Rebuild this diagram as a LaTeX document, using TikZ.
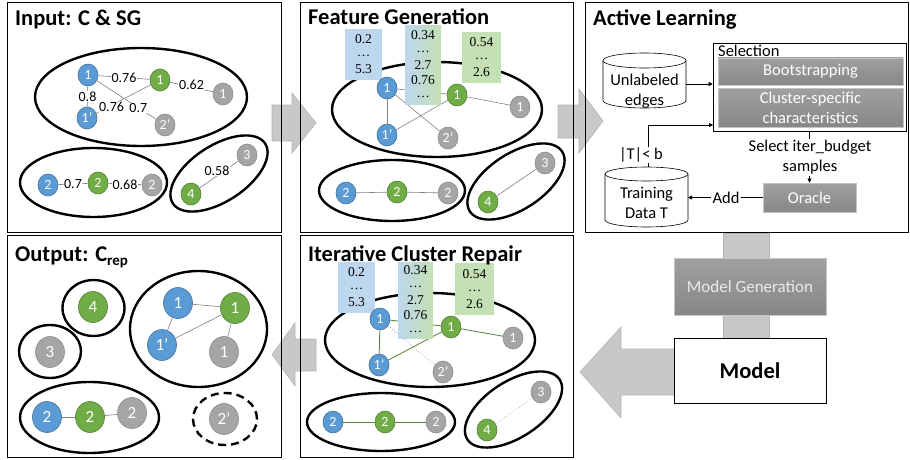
\documentclass[tikz,border=0pt]{standalone}
\usepackage{fontspec}
\setmainfont{Carlito}
\newfontfamily\boxfont{Liberation Serif}
\usetikzlibrary{shapes.geometric,arrows.meta}
\pgfdeclarelayer{bg}
\pgfdeclarelayer{mid}
\pgfsetlayers{bg,mid,main}
\definecolor{nblue}{HTML}{5B9BD5}
\definecolor{nblueD}{HTML}{41719C}
\definecolor{ngreen}{HTML}{70AD47}
\definecolor{ngreenD}{HTML}{507E32}
\definecolor{ngray}{HTML}{A5A5A5}
\definecolor{ngrayD}{HTML}{8A8A8A}
\definecolor{fblue}{HTML}{BDD7EE}
\definecolor{fgreen}{HTML}{C5E0B4}
\definecolor{arrowfill}{HTML}{C8C8C8}
\definecolor{arrowdraw}{HTML}{B4B4B4}
\definecolor{edgegray}{HTML}{808080}
\definecolor{repgreen}{HTML}{548235}
\definecolor{procTop}{HTML}{A0A0A0}
\definecolor{procBot}{HTML}{878787}
\definecolor{procBorder}{HTML}{C4C4C4}
\tikzset{
  panel/.style={draw=black, line width=0.9pt, inner sep=0pt},
  ptitle/.style={anchor=base west, inner sep=0pt, font=\fontsize{22.5}{26}\selectfont\bfseries},
  cluster/.style={draw=black, line width=2.4pt},
  nd/.style={ellipse, minimum width=20pt, minimum height=22pt, inner sep=0pt, text=white, line width=0.6pt, font=\fontsize{14}{14}\selectfont},
  bn/.style={nd, fill=nblue, draw=nblueD},
  gn/.style={nd, fill=ngreen, draw=ngreenD},
  yn/.style={nd, fill=ngray, draw=ngrayD},
  bignd/.style={minimum width=29pt, minimum height=31pt, font=\fontsize{17}{17}\selectfont},
  lk/.style={draw=edgegray, line width=0.6pt},
  rk/.style={draw=repgreen, line width=0.8pt},
  dk/.style={draw=edgegray, line width=0.6pt, dotted},
  lbl/.style={fill=white, inner sep=0.6pt, font=\fontsize{14}{14}\selectfont},
  fbox/.style={inner sep=0pt, align=center, font=\boxfont\fontsize{13.5}{15}\selectfont},
  bigarrow/.style={fill=arrowfill, draw=arrowdraw, line width=0.6pt},
  proc/.style={top color=procTop, bottom color=procBot, draw=procBorder, line width=0.8pt, text=white, inner sep=0pt, align=center, font=\fontsize{16.5}{20}\selectfont},
  altext/.style={font=\fontsize{16.5}{20}\selectfont, inner sep=0pt, align=center},
  cyl/.style={draw=black, line width=0.6pt, fill=white},
  smallarr/.style={-{Triangle[length=4pt,width=4pt]}, line width=0.6pt},
}
\newcommand{\dts}{\raisebox{2pt}{…}}
\begin{document}
\begin{tikzpicture}[x=1pt,y=-1pt]
\useasboundingbox (0,0) rectangle (910,460);

% ---------- background: block arrows ----------
\begin{pgfonlayer}{bg}
\draw[bigarrow] (272,105) -- (292,105) -- (292,93) -- (316,123) -- (292,153) -- (292,141) -- (272,141) -- cycle;
\draw[bigarrow] (558,105) -- (579,105) -- (579,89) -- (603,121) -- (579,153) -- (579,138) -- (558,138) -- cycle;
\draw[bigarrow] (272,354.5) -- (295,323) -- (295,339) -- (316,339) -- (316,371) -- (295,371) -- (295,386) -- cycle;
\draw[bigarrow] (580,372) -- (621,327) -- (621,349) -- (676,349) -- (676,395) -- (621,395) -- (621,418) -- cycle;
\draw[bigarrow] (723,233) rectangle (769,338);
\end{pgfonlayer}

% ---------- panels ----------
\node[panel, minimum width=274pt, minimum height=230pt] (p1) at (144,117) {};
\node[panel, minimum width=273pt, minimum height=230pt] (p2) at (436.5,117) {};
\node[panel, minimum width=323pt, minimum height=230pt] (p3) at (746.5,117) {};
\node[panel, minimum width=274pt, minimum height=222pt] (p4) at (144,346) {};
\node[panel, minimum width=273pt, minimum height=222pt] (p5) at (436.5,346) {};

\node[ptitle] (t1) at (15,26) {Input: C \& SG};
\node[ptitle] (t2) at (308,25) {Feature Generation};
\node[ptitle] (t3) at (593,26) {Active Learning};
\node[ptitle] (t4) at (15,261) {Output: C\raisebox{-4pt}{\fontsize{15}{15}\selectfont rep}};
\node[ptitle] (t5) at (308,261) {Iterative Cluster Repair};

% ---------- panel 1 ----------
\node[bn] (a1) at (88,75) {1};
\node[gn] (a2) at (160,80) {1};
\node[yn] (a3) at (223,94) {1};
\node[bn] (a4) at (87,118) {1'};
\node[yn] (a5) at (165,125) {2'};
\node[bn] (a6) at (48,185) {2};
\node[gn] (a7) at (98,183) {2};
\node[yn] (a8) at (152,185) {2};
\node[yn] (a9) at (247,155) {3};
\node[gn] (a10) at (191,194) {4};
\begin{pgfonlayer}{bg}
\draw[cluster] (141,97) ellipse [x radius=106pt, y radius=49pt];
\draw[cluster] (93.5,182.5) ellipse [x radius=73.5pt, y radius=34.5pt];
\draw[cluster, rotate around={33:(219,173.5)}] (219,173.5) ellipse [x radius=55pt, y radius=28pt];
\draw[lk] (a1) -- (a5) node[lbl, pos=0.7] {0.7};
\draw[lk] (a2) -- (a4) node[lbl, pos=0.72, yshift=-2pt] {0.76};
\draw[lk] (a1) -- node[lbl] {0.76} (a2);
\draw[lk] (a2) -- node[lbl, yshift=2pt] {0.62} (a3);
\draw[lk] (a1) -- node[lbl] {0.8} (a4);
\draw[lk] (a6) -- node[lbl] {0.7} (a7);
\draw[lk] (a7) -- node[lbl, yshift=-1pt] {0.68} (a8);
\draw[lk] (a10) -- node[lbl, xshift=-2pt, yshift=4pt] {0.58} (a9);
\end{pgfonlayer}

% ---------- panel 2 ----------
\node[bn] (b1) at (387,88) {1};
\node[gn] (b2) at (457,95) {1};
\node[yn] (b3) at (520,107) {1};
\node[bn] (b4) at (387,135) {1'};
\node[yn] (b5) at (448,138) {2'};
\node[bn] (b6) at (346,193) {2};
\node[gn] (b7) at (397,192) {2};
\node[yn] (b8) at (448,193) {2};
\node[yn] (b9) at (545,163) {3};
\node[gn] (b10) at (488,202) {4};
\begin{pgfonlayer}{bg}
\draw[cluster] (437,109.5) ellipse [x radius=105pt, y radius=47.5pt];
\draw[cluster] (392,190.5) ellipse [x radius=73pt, y radius=30.5pt];
\draw[cluster, rotate around={33:(516,181.5)}] (516,181.5) ellipse [x radius=55pt, y radius=28pt];
\draw[lk] (b1) -- (b2);
\draw[lk] (b2) -- (b3);
\draw[lk] (b1) -- (b4);
\draw[lk] (b2) -- (b4);
\draw[lk] (b1) -- (b5);
\draw[lk] (b6) -- (b7);
\draw[lk] (b7) -- (b8);
\draw[lk] (b10) -- (b9);
\end{pgfonlayer}
\begin{pgfonlayer}{mid}
\node[fbox, fill=fblue, minimum width=37pt, minimum height=51pt] (f1) at (363.5,54.5) {0.2\\\dts\\5.3};
\node[fbox, left color=fblue, right color=fgreen, minimum width=36pt, minimum height=78pt] (f2) at (423,65) {0.34\\\dts\\2.7\\0.76\\\dts};
\node[fbox, fill=fgreen, minimum width=39pt, minimum height=51pt] (f3) at (481.5,57.5) {0.54\\\dts\\2.6};
\end{pgfonlayer}

% ---------- panel 5 ----------
\node[bn] (c1) at (380,319) {1};
\node[gn] (c2) at (451,327) {1};
\node[yn] (c3) at (513,338) {1};
\node[bn] (c4) at (379,365) {1'};
\node[yn] (c5) at (443,372) {2'};
\node[bn] (c6) at (333,422) {2};
\node[gn] (c7) at (385,422) {2};
\node[yn] (c8) at (436,422) {2};
\node[yn] (c9) at (541,392) {3};
\node[gn] (c10) at (487,430) {4};
\begin{pgfonlayer}{bg}
\draw[cluster] (430,340) ellipse [x radius=105pt, y radius=47pt];
\draw[cluster] (381,422) ellipse [x radius=74pt, y radius=29pt];
\draw[cluster, rotate around={33:(513.5,409.5)}] (513.5,409.5) ellipse [x radius=55pt, y radius=28pt];
\draw[rk] (c1) -- (c2);
\draw[rk] (c2) -- (c3);
\draw[rk] (c1) -- (c4);
\draw[rk] (c2) -- (c4);
\draw[dk] (c1) -- (c5);
\draw[rk] (c6) -- (c7);
\draw[rk] (c7) -- (c8);
\draw[dk] (c10) -- (c9);
\end{pgfonlayer}
\begin{pgfonlayer}{mid}
\node[fbox, fill=fblue, minimum width=37pt, minimum height=51pt] (g1) at (356.5,287) {0.2\\\dts\\5.3};
\node[fbox, left color=fblue, right color=fgreen, minimum width=35pt, minimum height=76pt] (g2) at (415.5,300) {0.34\\\dts\\2.7\\0.76\\\dts};
\node[fbox, fill=fgreen, minimum width=39pt, minimum height=52pt] (g3) at (474.5,289) {0.54\\\dts\\2.6};
\end{pgfonlayer}

% ---------- panel 4 ----------
\node[gn, bignd] (d1) at (93,307) {4};
\node[yn, bignd] (d2) at (50,352) {3};
\node[bn, bignd] (d3) at (178,303) {1};
\node[gn, bignd] (d4) at (235,308) {1};
\node[bn, bignd] (d5) at (162,345) {1'};
\node[yn, bignd] (d6) at (224,352) {1};
\node[bn, bignd] (d7) at (47,417) {2};
\node[gn, bignd] (d8) at (90,417) {2};
\node[yn, bignd] (d9) at (132,413) {2};
\node[yn, bignd] (d10) at (224,419) {2'};
\begin{pgfonlayer}{bg}
\draw[cluster] (93.5,308) ellipse [x radius=31pt, y radius=28pt];
\draw[cluster] (50,351.5) ellipse [x radius=31pt, y radius=26.5pt];
\draw[cluster] (198.5,329) ellipse [x radius=68.5pt, y radius=58pt];
\draw[cluster] (89.5,417.5) ellipse [x radius=69.5pt, y radius=35.5pt];
\draw[cluster, dash pattern=on 8pt off 5pt] (225,419) ellipse [x radius=32pt, y radius=26pt];
\draw[lk] (d3) -- (d4);
\draw[lk] (d3) -- (d5);
\draw[lk] (d4) -- (d5);
\draw[lk] (d4) -- (d6);
\draw[lk] (d7) -- (d8);
\draw[lk] (d8) -- (d9);
\end{pgfonlayer}

% ---------- panel 3 ----------
\draw[cyl] (603,60.5) -- (603,100.5) arc [start angle=180, end angle=360, x radius=41.5pt, y radius=7.5pt] -- (686,60.5);
\draw[cyl] (644.5,60.5) ellipse [x radius=41.5pt, y radius=7.5pt];
\node[altext] (unl) at (644.5,91) {Unlabeled\\edges};
\draw[cyl] (605,174) -- (605,220) arc [start angle=180, end angle=360, x radius=41.5pt, y radius=7pt] -- (688,174);
\draw[cyl] (646.5,174) ellipse [x radius=41.5pt, y radius=7pt];
\node[altext] (trn) at (646.5,203) {Training\\Data T};
\coordinate (unlR) at (686,84);
\coordinate (trnT) at (648,167);
\coordinate (trnR) at (688,197.5);

\node[draw, line width=0.6pt, fill=white, minimum width=193pt, minimum height=88pt, inner sep=0pt] (sel) at (809.5,87) {};
\node[altext, anchor=base west] (selt) at (718,57) {Selection};
\node[proc, minimum width=185pt, minimum height=27pt] (boot) at (810.5,71.5) {Bootstrapping};
\node[proc, minimum width=185pt, minimum height=39pt] (clu) at (810.5,107.5) {Cluster-specific\\characteristics};
\node[proc, minimum width=93pt, minimum height=29pt] (orc) at (809.5,197.5) {Oracle};

\draw[smallarr] (unlR) -- (unlR -| sel.west);
\coordinate (selIn) at (713,125);
\draw[smallarr] (trnT) |- (selIn);
\node[altext, fill=white, inner sep=1pt] (tb) at (641,155) {|T|< b};
\draw[smallarr] (orc.north |- sel.south) -- (orc.north);
\node[altext, fill=white, inner sep=1pt] (sib) at (810,157.5) {Select iter\_budget\\samples};
\draw[smallarr] (orc.west) -- (trnR);
\node[altext, fill=white, inner sep=1.5pt] (add) at (726,197.5) {Add};

% ---------- model ----------
\node[proc, minimum width=152pt, minimum height=57pt, font=\fontsize{17}{17}\selectfont, text=white!92!black] (mg) at (750,286.5) {Model Generation};
\node[draw, line width=1pt, fill=white, minimum width=152pt, minimum height=65pt, font=\fontsize{22.5}{22.5}\selectfont\bfseries] (mod) at (750,370.5) {Model};
\end{tikzpicture}
\end{document}
